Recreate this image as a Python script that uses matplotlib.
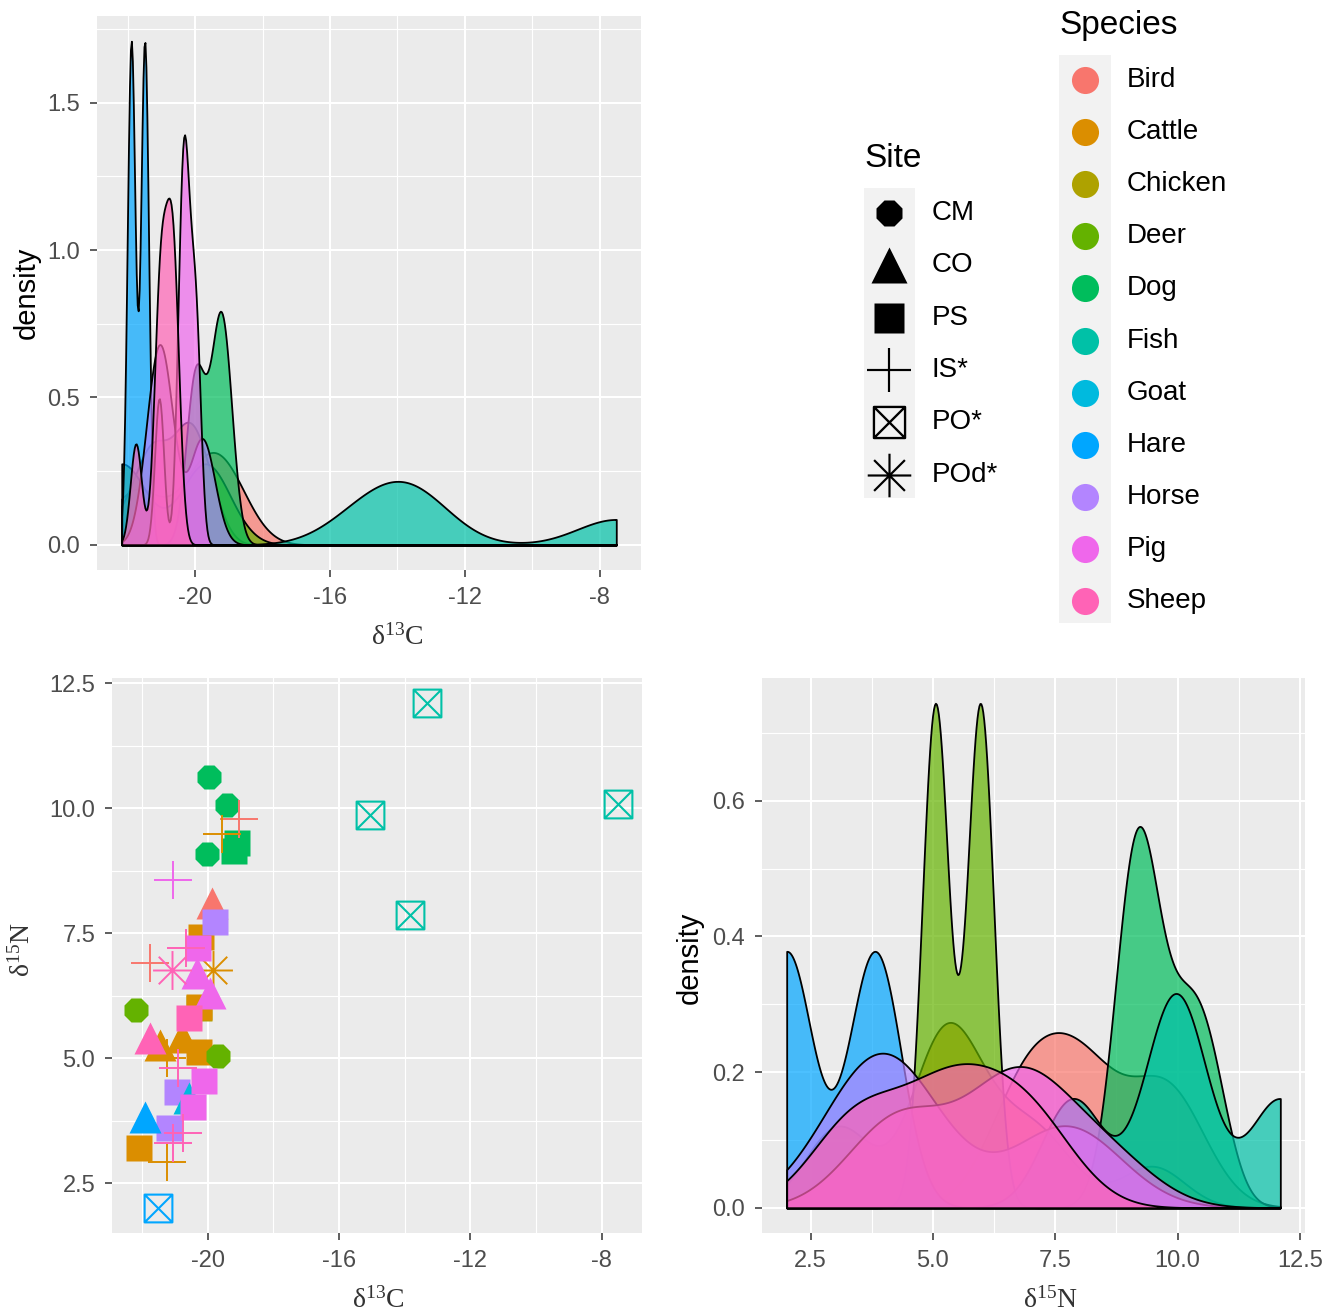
import numpy as np
import matplotlib.pyplot as plt
from matplotlib.path import Path
from matplotlib.colors import to_rgba
from matplotlib.patches import Rectangle
from matplotlib.ticker import FixedLocator

plt.rcParams['font.family'] = ['Liberation Sans', 'DejaVu Sans']
plt.rcParams['axes.unicode_minus'] = False
plt.rcParams['mathtext.default'] = 'regular'

# Species order and ggplot hue palette
especies = ["Bird", "Cattle", "Chicken", "Deer", "Dog", "Fish", "Goat", "Hare", "Horse", "Pig", "Sheep"]
cores = ["#F8766D", "#DB8E00", "#AEA200", "#64B200", "#00BD5C", "#00C1A7",
         "#00BADE", "#00A6FF", "#B385FF", "#EF67EB", "#FF63B6"]
sitios = ["CM", "CO", "PS", "IS*", "PO*", "POd*"]

# One row per sample: species, site, d13C, d15N
amostra_especie = ["Chicken", "Dog", "Dog", "Dog", "Dog", "Dog",
                   "Bird", "Bird", "Bird",
                   "Cattle", "Cattle", "Cattle", "Cattle", "Cattle", "Cattle", "Cattle", "Cattle", "Cattle", "Cattle",
                   "Deer", "Deer", "Horse", "Horse", "Horse", "Goat", "Hare", "Hare",
                   "Fish", "Fish", "Fish", "Fish",
                   "Pig", "Pig", "Pig", "Pig", "Pig", "Pig",
                   "Sheep", "Sheep", "Sheep", "Sheep", "Sheep", "Sheep", "Sheep"]
amostra_sitio = ["PS", "CM", "CM", "PS", "PS", "CM",
                 "IS*", "CO", "IS*",
                 "IS*", "PS", "POd*", "PS", "CO", "CO", "PS", "IS*", "PS", "IS*",
                 "CM", "CM", "PS", "PS", "PS", "CO", "CO", "PO*",
                 "PO*", "PO*", "PO*", "PO*",
                 "IS*", "PS", "CO", "CO", "PS", "PS",
                 "IS*", "POd*", "PS", "CO", "IS*", "IS*", "IS*"]
d13C = [-20.26, -19.96, -19.40, -19.20, -19.10, -20.02,
        -19.05, -19.86, -21.76,
        -19.55, -20.19, -19.84, -20.26, -20.77, -21.45, -20.26, -21.25, -22.08, -21.25,
        -22.18, -19.69, -19.79, -20.93, -21.17, -20.57, -21.90, -21.50,
        -15.05, -13.33, -13.85, -7.51,
        -21.07, -20.28, -20.34, -19.94, -20.10, -20.46,
        -20.67, -21.10, -20.57, -21.76, -20.90, -21.05, -20.75]
d15N = [6.00, 10.62, 10.07, 9.15, 9.30, 9.09,
        9.78, 8.10, 6.91,
        9.48, 7.43, 6.77, 6.03, 5.43, 5.27, 5.12, 5.01, 3.21, 2.93,
        5.97, 5.05, 7.73, 4.32, 3.61, 4.21, 3.82, 2.01,
        9.86, 12.10, 7.86, 10.08,
        8.57, 7.21, 6.70, 6.30, 4.55, 4.03,
        7.20, 6.77, 5.81, 5.40, 4.80, 3.31, 3.50]

d13C = np.array(d13C)
d15N = np.array(d15N)
amostra_especie = np.array(amostra_especie)

# marcadores customizados: quadrado com X e asterisco
caixa_x = Path([(-1, -1), (1, -1), (1, 1), (-1, 1), (-1, -1), (-1, -1), (1, 1), (-1, 1), (1, -1)],
               [Path.MOVETO, Path.LINETO, Path.LINETO, Path.LINETO, Path.CLOSEPOLY,
                Path.MOVETO, Path.LINETO, Path.MOVETO, Path.LINETO])
d = 0.7071
asterisco = Path([(-1, 0), (1, 0), (0, -1), (0, 1), (-d, -d), (d, d), (-d, d), (d, -d)],
                 [Path.MOVETO, Path.LINETO] * 4)

estilo_sitio = {
    "CM": dict(marker='8', ms=18, filled=True),
    "CO": dict(marker='^', ms=23, filled=True),
    "PS": dict(marker='s', ms=19, filled=True),
    "IS*": dict(marker='+', ms=28, filled=False, mew=1.4),
    "PO*": dict(marker=caixa_x, ms=20, filled=False, mew=1.5),
    "POd*": dict(marker=asterisco, ms=28, filled=False, mew=1.4),
}


def desenhar_marcador(ax, x, y, sitio, cor, escala=1.0):
    st = estilo_sitio[sitio]
    if st["filled"]:
        ax.plot(x, y, marker=st["marker"], ms=st["ms"] * escala, color=cor, mec='none', ls='none')
    else:
        ax.plot(x, y, marker=st["marker"], ms=st["ms"] * escala, mfc='none', mec=cor,
                mew=st["mew"] * escala, ls='none')


def bw_nrd0(x):
    sd = np.std(x, ddof=1)
    q75, q25 = np.percentile(x, [75, 25])
    lo = min(sd, (q75 - q25) / 1.34)
    if lo == 0:
        lo = sd
    return 0.9 * lo * len(x) ** -0.2


def densidade(x, grade):
    bw = bw_nrd0(x)
    z = (grade[:, None] - x[None, :]) / bw
    return np.exp(-0.5 * z ** 2).sum(axis=1) / (len(x) * bw * np.sqrt(2 * np.pi))


def estilo_painel(ax):
    ax.set_facecolor('#EBEBEB')
    for s in ax.spines.values():
        s.set_visible(False)
    ax.grid(True, which='major', color='white', lw=1.5)
    ax.grid(True, which='minor', color='white', lw=0.8)
    ax.set_axisbelow(True)
    ax.tick_params(which='major', length=5, width=1.1, color='#333333', labelcolor='#4D4D4D',
                   labelsize=17, pad=7)
    ax.tick_params(which='minor', length=0)


def expandir(vmin, vmax, frac=0.05):
    r = vmax - vmin
    return vmin - r * frac, vmax + r * frac


def plotar_densidades(ax, valores, grade):
    ymax = 0
    for esp, cor in zip(especies, cores):
        x = valores[amostra_especie == esp]
        if len(x) < 2:
            continue
        y = densidade(x, grade)
        ymax = max(ymax, y.max())
        ax.fill_between(grade, y, 0, facecolor=to_rgba(cor, 0.7), edgecolor='black', lw=1.3)
    return ymax


W, H = 1339, 1315
fig = plt.figure(figsize=(W / 100, H / 100), dpi=100)

rotulo_C = 'δ$^{13}$C'
rotulo_N = 'δ$^{15}$N'
fonte_serif = ['Liberation Serif', 'DejaVu Serif']


def titulo(x, y, texto, serif=False, rot=0):
    fam = fonte_serif if serif else ['Liberation Sans']
    fig.text(x / W, 1 - y / H, texto, fontsize=21 if not serif else 20, family=fam,
             color='#333333' if serif else 'black', ha='center', va='center', rotation=rot)


# densidade de d13C
ax1 = fig.add_axes([97 / W, 1 - 570 / H, 544 / W, 554 / H])
estilo_painel(ax1)
grade_C = np.linspace(d13C.min(), d13C.max(), 512)
ymax = plotar_densidades(ax1, d13C, grade_C)
ax1.set_xlim(*expandir(d13C.min(), d13C.max()))
ax1.set_ylim(*expandir(0, ymax))
ax1.xaxis.set_major_locator(FixedLocator([-20, -16, -12, -8]))
ax1.xaxis.set_minor_locator(FixedLocator([-22, -18, -14, -10]))
ax1.yaxis.set_major_locator(FixedLocator([0, 0.5, 1.0, 1.5]))
ax1.yaxis.set_minor_locator(FixedLocator([0.25, 0.75, 1.25, 1.75]))
ax1.set_yticklabels(["0.0", "0.5", "1.0", "1.5"])
titulo(397, 637, rotulo_C, serif=True)
titulo(27, 293, "density", rot=90)

# dispersao d13C x d15N
ax2 = fig.add_axes([112 / W, 1 - 1233 / H, 530 / W, 555 / H])
estilo_painel(ax2)
for x, y, esp, sit in zip(d13C, d15N, amostra_especie, amostra_sitio):
    desenhar_marcador(ax2, x, y, sit, cores[especies.index(esp)])
ax2.set_xlim(*expandir(d13C.min(), d13C.max()))
ax2.set_ylim(*expandir(d15N.min(), d15N.max()))
ax2.xaxis.set_major_locator(FixedLocator([-20, -16, -12, -8]))
ax2.xaxis.set_minor_locator(FixedLocator([-22, -18, -14, -10]))
ax2.yaxis.set_major_locator(FixedLocator([2.5, 5.0, 7.5, 10.0, 12.5]))
ax2.yaxis.set_minor_locator(FixedLocator([3.75, 6.25, 8.75, 11.25]))
ax2.set_yticklabels(["2.5", "5.0", "7.5", "10.0", "12.5"])
titulo(378, 1300, rotulo_C, serif=True)
titulo(22, 950, rotulo_N, serif=True, rot=90)

# densidade de d15N
ax3 = fig.add_axes([762 / W, 1 - 1233 / H, 543 / W, 555 / H])
estilo_painel(ax3)
grade_N = np.linspace(d15N.min(), d15N.max(), 512)
ymax = plotar_densidades(ax3, d15N, grade_N)
ax3.set_xlim(*expandir(d15N.min(), d15N.max()))
ax3.set_ylim(*expandir(0, ymax))
ax3.xaxis.set_major_locator(FixedLocator([2.5, 5.0, 7.5, 10.0, 12.5]))
ax3.xaxis.set_minor_locator(FixedLocator([3.75, 6.25, 8.75, 11.25]))
ax3.set_xticklabels(["2.5", "5.0", "7.5", "10.0", "12.5"])
ax3.yaxis.set_major_locator(FixedLocator([0, 0.2, 0.4, 0.6]))
ax3.yaxis.set_minor_locator(FixedLocator([0.1, 0.3, 0.5, 0.7]))
ax3.set_yticklabels(["0.0", "0.2", "0.4", "0.6"])
titulo(1050, 1300, rotulo_N, serif=True)
titulo(690, 958, "density", rot=90)

# legendas (em pixels da figura)
leg = fig.add_axes([0, 0, 1, 1])
leg.set_xlim(0, W)
leg.set_ylim(H, 0)
leg.axis('off')

leg.text(864, 158, "Site", fontsize=24, va='center', ha='left')
leg.add_patch(Rectangle((864, 188), 51, 310, color='#F2F2F2', lw=0))
for i, sit in enumerate(sitios):
    yc = 213 + 52.3 * i
    desenhar_marcador(leg, 889, yc, sit, 'black', escala=1.12)
    leg.text(932, yc, sit, fontsize=20, va='center', ha='left')

leg.text(1059, 25, "Species", fontsize=24, va='center', ha='left')
leg.add_patch(Rectangle((1059, 55), 52, 568, color='#F2F2F2', lw=0))
for i, (esp, cor) in enumerate(zip(especies, cores)):
    yc = 80 + 52.1 * i
    leg.plot(1085, yc, 'o', ms=19.5, color=cor, mec='none')
    leg.text(1127, yc, esp, fontsize=20, va='center', ha='left')

fig.savefig('out.png', dpi=100)
